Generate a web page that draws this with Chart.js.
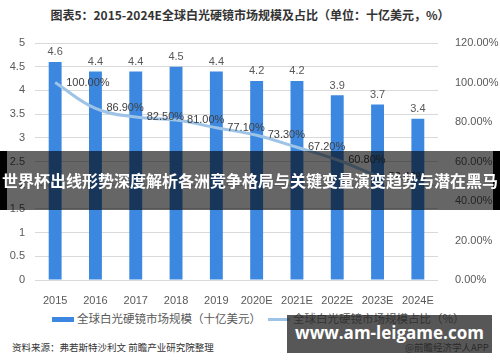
<!DOCTYPE html>
<html>
<head>
<meta charset="utf-8">
<script src="https://cdn.jsdelivr.net/npm/chart.js@4/dist/chart.umd.min.js"></script>
<style>
  body { margin: 0; width: 500px; height: 362px; background: #fff; position: relative; overflow: hidden; font-family: "Noto Sans CJK SC", sans-serif; }
  .title { position: absolute; top: 6px; left: 0; width: 500px; text-align: center; font-size: 12px; font-weight: bold; color: #333; }
  .chart-box { position: absolute; left: 0; top: 0; width: 500px; height: 310px; }
  .legend { position: absolute; top: 310px; font-size: 11.5px; color: #595959; white-space: nowrap; }
  .legend i { display: inline-block; vertical-align: middle; margin-right: 3px; }
  .source { position: absolute; left: 12px; top: 340px; font-size: 9.5px; color: #333; }
  .app { position: absolute; left: 405px; top: 340px; font-size: 9.5px; color: #333; }
  .banner { position: absolute; left: 0; top: 151px; width: 486px; height: 59px; background: rgba(0,0,0,0.6); border-left: 7px solid #000; border-right: 7px solid #000; }
  .banner span { position: absolute; left: -7px; width: 500px; top: 17px; text-align: center; color: #fff; font-size: 16px; font-weight: bold; white-space: nowrap; }
  .site { position: absolute; left: 287px; top: 315px; width: 205px; height: 38px; background: rgba(40,40,40,0.78); color: #fff; font-family: "Open Sans", sans-serif; font-weight: bold; font-size: 17px; line-height: 36px; text-align: center; white-space: nowrap; }
</style>
</head>
<body>
<div class="title">图表5：2015-2024E全球白光硬镜市场规模及占比（单位：十亿美元，%）</div>
<div class="chart-box"><canvas id="chart"></canvas></div>
<div class="legend" style="left:52px"><i style="width:22px;height:5px;background:#3c87df"></i>全球白光硬镜市场规模（十亿美元）</div>
<div class="legend" style="left:268px"><i style="width:22px;height:3px;background:#9dc3e6"></i>全球白光硬镜市场规模占比（%）</div>
<div class="source">资料来源：弗若斯特沙利文 前瞻产业研究院整理</div>
<div class="app">@前瞻经济学人APP</div>
<div class="banner"><span>世界杯出线形势深度解析各洲竞争格局与关键变量演变趋势与潜在黑马</span></div>
<div class="site">www.am-leigame.com</div>
<script>
const years = ['2015', '2016', '2017', '2018', '2019', '2020E', '2021E', '2022E', '2023E', '2024E'];
const marketSize = [4.6, 4.4, 4.4, 4.5, 4.4, 4.2, 4.2, 3.9, 3.7, 3.4];
const shareValues = [100.0, 86.9, 82.5, 81.0, 77.1, 73.3, 67.2, 60.8, 52.4, null];

const numFont = { family: 'Liberation Sans', size: 11 };

// labels on bars and line points
const valueLabels = {
    id: 'valueLabels',
    afterDatasetsDraw(chart) {
        let ctx = chart.ctx;
        ctx.save();
        ctx.font = '11px "Liberation Sans"';
        ctx.fillStyle = '#595959';
        ctx.textAlign = 'center';
        ctx.textBaseline = 'bottom';
        chart.getDatasetMeta(1).data.forEach((bar, i) => {
            ctx.fillText(marketSize[i].toFixed(1), bar.x, bar.y - 4);
        });
        ctx.fillStyle = '#404040';
        ctx.textAlign = 'left';
        ctx.textBaseline = 'middle';
        chart.getDatasetMeta(0).data.forEach((pt, i) => {
            if (shareValues[i] == null) return;
            ctx.fillText(shareValues[i].toFixed(2) + '%', pt.x + 11, pt.y);
        });
        ctx.restore();
    }
};

let ctx = document.getElementById('chart');
let chart = new Chart(ctx, {
    type: 'bar',
    data: {
        labels: years,
        datasets: [{
            type: 'line',
            data: shareValues,
            yAxisID: 'yRight',
            borderColor: '#9dc3e6',
            borderWidth: 3,
            pointRadius: 0,
            tension: 0.4,
            order: 0
        }, {
            type: 'bar',
            data: marketSize,
            yAxisID: 'y',
            backgroundColor: '#3c87df',
            barPercentage: 0.32,
            categoryPercentage: 1,
            order: 1
        }]
    },
    options: {
        responsive: true,
        maintainAspectRatio: false,
        animation: false,
        layout: { padding: { top: 43, bottom: 4, left: 0, right: 0 } },
        plugins: {
            legend: { display: false },
            tooltip: { enabled: false }
        },
        scales: {
            x: {
                grid: { display: false },
                border: { display: false },
                ticks: { color: '#595959', font: numFont, padding: 6, maxRotation: 0 },
                afterFit: (s) => { s.height = 26; }
            },
            y: {
                position: 'left',
                min: 0,
                max: 5,
                ticks: { stepSize: 0.5, color: '#595959', font: numFont, padding: 10,
                    callback: (v) => String(Math.round(v * 10) / 10) },
                grid: { color: '#d9d9d9', drawTicks: false },
                border: { display: false },
                afterFit: (s) => { s.width = 35; }
            },
            yRight: {
                position: 'right',
                min: 0,
                max: 120,
                ticks: { stepSize: 20, color: '#595959', font: numFont, padding: 9,
                    callback: (v) => v.toFixed(2) + '%' },
                grid: { display: false },
                border: { display: false },
                afterFit: (s) => { s.width = 62; }
            }
        }
    },
    plugins: [valueLabels]
});
</script>
</body>
</html>
